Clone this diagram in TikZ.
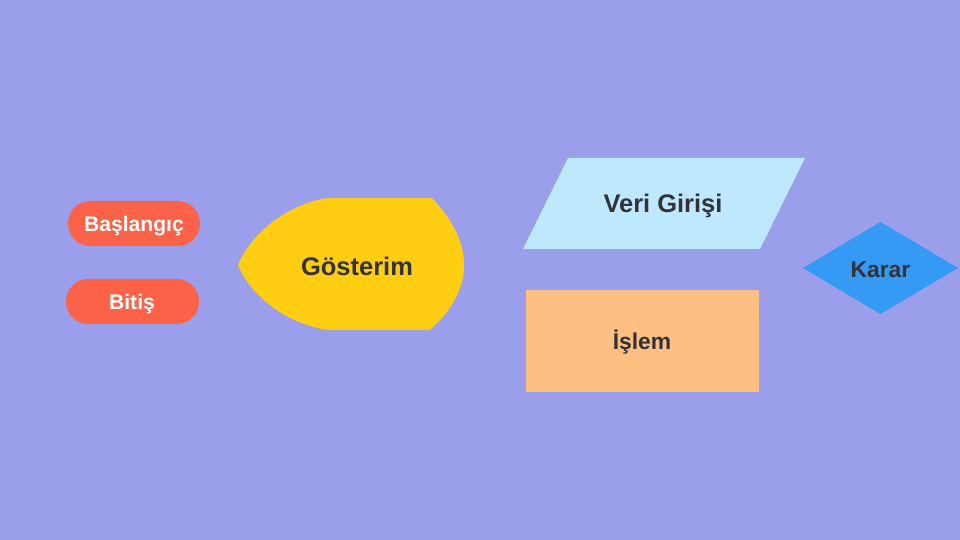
\documentclass[tikz,border=0pt]{standalone}
\usepackage{fontspec}
\setmainfont{Liberation Sans}
\usepackage{tikz}
\definecolor{bgcol}{RGB}{155,158,235}
\definecolor{pillcol}{RGB}{252,98,72}
\definecolor{showcol}{RGB}{255,205,18}
\definecolor{inputcol}{RGB}{190,232,253}
\definecolor{proccol}{RGB}{253,192,130}
\definecolor{askcol}{RGB}{52,154,244}
\definecolor{inkcol}{RGB}{50,50,56}
\tikzset{
	pilltext/.style={text=white, font=\bfseries\fontsize{12}{14}\selectfont},
	bigtext/.style={text=inkcol, font=\bfseries\fontsize{14.5}{17}\selectfont},
	smalltext/.style={text=inkcol, font=\bfseries\fontsize{13}{15}\selectfont}
}

\begin{document}
\begin{tikzpicture}[x=0.02cm, y=-0.02cm]
			%%%%% START %%%%%
			
			\fill[bgcol] (0, 0) rectangle (960, 540);
			\useasboundingbox (0, 0) rectangle (960, 540);
			
			\fill[pillcol, rounded corners=12.7pt] (68, 201) rectangle (200, 246);
			\node[pilltext] (start) at (134, 226) {Başlangıç};
			
			\fill[pillcol, rounded corners=12.7pt] (66, 279) rectangle (199, 324);
			\node[pilltext] (stop) at (132, 304) {Bitiş};
			
			\fill[showcol] (327, 198) -- (432, 198)
				.. controls (455, 222) and (464, 245) .. (464, 265)
				.. controls (464, 288) and (452, 310) .. (430, 330)
				-- (327, 330)
				.. controls (285, 323) and (250, 295) .. (238, 265)
				.. controls (250, 235) and (285, 205) .. (327, 198) -- cycle;
			\node[bigtext] (show) at (357, 266) {Gösterim};
			
			\fill[inputcol] (568, 158) -- (805, 158) -- (760, 249) -- (523, 249) -- cycle;
			\node[bigtext] (input) at (663, 206) {Veri Girişi};
			
			\fill[proccol] (526, 290) rectangle (759, 392);
			\node[smalltext] (proc) at (642, 342) {İşlem};
			
			\fill[askcol] (803, 268) -- (880.5, 222) -- (958, 268) -- (880.5, 314) -- cycle;
			\node[smalltext] (ask) at (880.5, 270) {Karar};
			
			%%%%% END %%%%%
\end{tikzpicture}
\end{document}
